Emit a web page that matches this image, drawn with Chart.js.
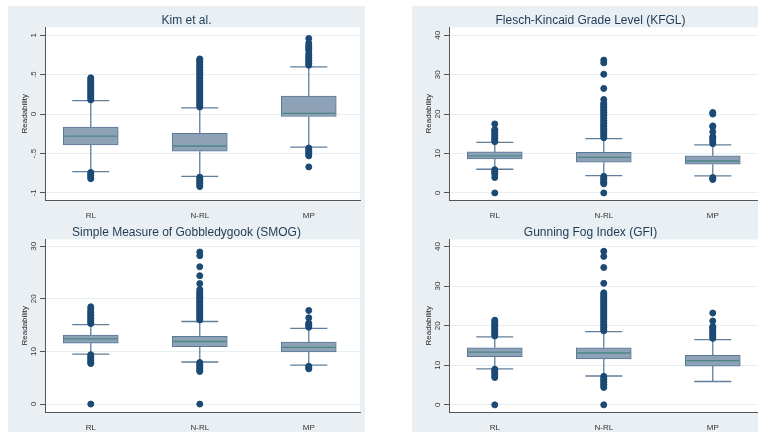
<!DOCTYPE html>
<html>
<head>
<meta charset="utf-8">
<script src="https://cdn.jsdelivr.net/npm/chart.js@4.4.1/dist/chart.umd.min.js"></script>
<style>
  body { margin: 0; background: #fff; width: 758px; height: 435px; overflow: hidden; position: relative; }
  canvas { position: absolute; background: #e9eff3; }
</style>
</head>
<body>
<canvas id="kim" width="357" height="212" style="left:8px;top:6px"></canvas>
<canvas id="kfgl" width="357" height="212" style="left:412px;top:6px"></canvas>
<canvas id="smog" width="357" height="214" style="left:8px;top:218px"></canvas>
<canvas id="gfi" width="357" height="214" style="left:412px;top:218px"></canvas>
<script>
const categories = ["RL", "N-RL", "MP"];

// Kim et al.
const kimTicks = [-1, -0.5, 0, 0.5, 1];
const kimTickLabels = ["-1", "-.5", "0", ".5", "1"];
const kimBoxLow = [-0.39, -0.47, -0.03];
const kimMedian = [-0.28, -0.405, 0.01];
const kimBoxHigh = [-0.165, -0.245, 0.23];
const kimWhiskLow = [-0.73, -0.79, -0.42];
const kimWhiskHigh = [0.17, 0.08, 0.6];
const kimOutRL = [0.18, 0.2, 0.22, 0.24, 0.26, 0.28, 0.3, 0.32, 0.34, 0.36, 0.38, 0.4, 0.42, 0.44, 0.46,
  -0.74, -0.76, -0.78, -0.8, -0.82];
const kimOutNRL = [0.09, 0.11, 0.13, 0.15, 0.17, 0.19, 0.21, 0.23, 0.25, 0.27, 0.29, 0.31, 0.33, 0.35, 0.37,
  0.39, 0.41, 0.43, 0.45, 0.47, 0.49, 0.51, 0.53, 0.55, 0.57, 0.59, 0.61, 0.63, 0.65, 0.67, 0.69, 0.7,
  -0.8, -0.82, -0.84, -0.86, -0.88, -0.9, -0.92];
const kimOutMP = [0.62, 0.64, 0.66, 0.68, 0.7, 0.72, 0.74, 0.77, 0.81, 0.83, 0.85, 0.87, 0.9, 0.96,
  -0.43, -0.45, -0.47, -0.49, -0.51, -0.53, -0.67];

// Flesch-Kincaid
const kfglTicks = [0, 10, 20, 30, 40];
const kfglBoxLow = [8.6, 7.8, 7.3];
const kfglMedian = [9.4, 9.0, 8.1];
const kfglBoxHigh = [10.4, 10.3, 9.4];
const kfglWhiskLow = [6.0, 4.4, 4.3];
const kfglWhiskHigh = [12.8, 13.8, 12.2];
const kfglOutRL = [13.0, 13.4, 13.8, 14.2, 14.6, 15.0, 15.4, 15.8, 16.1, 17.5, 5.9, 5.5, 5.1, 4.7, 3.9, 0];
const kfglOutNRL = [14.0, 14.4, 14.8, 15.2, 15.6, 16.0, 16.4, 16.8, 17.2, 17.6, 18.0, 18.4, 18.8, 19.2,
  19.6, 20.0, 20.4, 20.8, 21.2, 21.6, 22.0, 22.4, 22.8, 23.7, 26.5, 30.1, 33.0, 33.7,
  4.2, 3.8, 3.4, 3.0, 2.6, 2.3, 0];
const kfglOutMP = [12.5, 13.0, 13.5, 14.0, 14.3, 15.5, 16.8, 17.0, 20.0, 20.4, 3.9, 3.6, 3.4];

// SMOG
const smogTicks = [0, 10, 20, 30];
const smogBoxLow = [11.6, 10.9, 9.9];
const smogMedian = [12.4, 11.9, 10.8];
const smogBoxHigh = [13.1, 12.9, 11.8];
const smogWhiskLow = [9.5, 8.0, 7.4];
const smogWhiskHigh = [15.1, 15.7, 14.4];
const smogOutRL = [15.3, 15.6, 15.9, 16.2, 16.5, 16.8, 17.1, 17.4, 17.7, 18.1, 18.5,
  9.4, 9.1, 8.8, 8.5, 8.2, 7.9, 7.7, 0];
const smogOutNRL = [16.0, 16.3, 16.6, 16.9, 17.2, 17.5, 17.8, 18.1, 18.4, 18.7, 19.0, 19.3, 19.6, 19.9,
  20.2, 20.5, 20.8, 21.1, 21.4, 21.8, 22.9, 24.4, 26.1, 28.2, 28.9,
  7.9, 7.6, 7.3, 7.0, 6.7, 6.4, 6.2, 0];
const smogOutMP = [14.6, 14.9, 15.2, 15.4, 16.4, 17.8, 7.2, 6.9, 6.7];

// Gunning Fog
const gfiTicks = [0, 10, 20, 30, 40];
const gfiBoxLow = [12.2, 11.6, 9.8];
const gfiMedian = [13.3, 13.1, 11.2];
const gfiBoxHigh = [14.4, 14.4, 12.5];
const gfiWhiskLow = [9.1, 7.3, 5.9];
const gfiWhiskHigh = [17.2, 18.5, 16.5];
const gfiOutRL = [17.4, 17.8, 18.2, 18.6, 19.0, 19.4, 19.8, 20.2, 20.6, 21.0, 21.4,
  9.0, 8.6, 8.2, 7.8, 7.3, 6.9, 0];
const gfiOutNRL = [18.7, 19.1, 19.5, 19.9, 20.3, 20.7, 21.1, 21.5, 21.9, 22.3, 22.7, 23.1, 23.5, 23.9,
  24.3, 24.7, 25.1, 25.5, 25.9, 26.3, 26.7, 27.1, 27.5, 27.9, 28.3, 30.7, 34.7, 37.5, 38.8,
  7.2, 6.8, 6.4, 6.0, 5.6, 5.2, 4.8, 4.4, 0];
const gfiOutMP = [16.8, 17.2, 17.6, 18.0, 18.4, 18.8, 19.2, 19.6, 19.8, 21.2, 23.2];

const FONT = "'Liberation Sans', Arial, Helvetica, sans-serif";

// white plot region like Stata's
const plotBg = {
  id: "plotBg",
  beforeDraw(chart) {
    const { ctx, chartArea: a } = chart;
    ctx.save();
    ctx.fillStyle = "#ffffff";
    ctx.fillRect(a.left, a.top, a.right - a.left, a.bottom - a.top);
    ctx.restore();
  }
};

// whiskers, caps and median lines, positioned through the chart scales
const boxParts = {
  id: "boxParts",
  beforeDatasetsDraw(chart, args, o) {
    const { ctx, scales: { x, y } } = chart;
    ctx.save();
    ctx.strokeStyle = "#5f7e9c";
    ctx.lineWidth = 1.3;
    o.whiskLow.forEach((lo, i) => {
      const cx = x.getPixelForValue(i + 1);
      const l = x.getPixelForValue(i + 1 - o.cap);
      const r = x.getPixelForValue(i + 1 + o.cap);
      [[lo, o.boxLow[i]], [o.whiskHigh[i], o.boxHigh[i]]].forEach(([end, edge]) => {
        const ye = y.getPixelForValue(end);
        ctx.beginPath();
        ctx.moveTo(cx, y.getPixelForValue(edge));
        ctx.lineTo(cx, ye);
        ctx.moveTo(l, ye);
        ctx.lineTo(r, ye);
        ctx.stroke();
      });
    });
    ctx.restore();
  },
  afterDatasetDraw(chart, args, o) {
    if (args.meta.type !== "bar") return;
    const { ctx, scales: { y } } = chart;
    ctx.save();
    ctx.strokeStyle = "#4c8784";
    ctx.lineWidth = 1.3;
    args.meta.data.forEach((bar, i) => {
      const ym = y.getPixelForValue(o.median[i]);
      ctx.beginPath();
      ctx.moveTo(bar.x - bar.width / 2 + 1, ym);
      ctx.lineTo(bar.x + bar.width / 2 - 1, ym);
      ctx.stroke();
    });
    ctx.restore();
  }
};

function boxPlot(id, title, yMin, yMax, ticks, tickLabels, boxLow, median, boxHigh, whiskLow, whiskHigh, outliers, titleTop, xHeight) {
  const points = [];
  outliers.forEach((vals, i) => vals.forEach(v => points.push({ x: i + 1, y: v })));

  new Chart(document.getElementById(id), {
    data: {
      datasets: [
        {
          type: "scatter",
          data: points,
          backgroundColor: "#1b4a74",
          borderColor: "#1b4a74",
          pointRadius: 3,
          order: 0
        },
        {
          type: "bar",
          data: categories.map((c, i) => ({ x: i + 1, y: [boxLow[i], boxHigh[i]] })),
          backgroundColor: "#8da2b7",
          borderColor: "#5a7796",
          borderWidth: 1,
          borderSkipped: false,
          barThickness: 55,
          order: 1
        }
      ]
    },
    options: {
      responsive: false,
      animation: false,
      layout: { padding: { left: 0, right: 0, top: 0, bottom: 0 } },
      plugins: {
        legend: { display: false },
        tooltip: { enabled: false },
        title: {
          display: true,
          text: title,
          color: "#1e3a56",
          font: { family: FONT, size: 12, weight: "normal" },
          padding: { top: titleTop, bottom: 0 }
        },
        boxParts: { boxLow, median, boxHigh, whiskLow, whiskHigh, cap: 0.17 }
      },
      scales: {
        x: {
          type: "linear",
          offset: false,
          min: 0.58,
          max: 3.47,
          afterBuildTicks: s => { s.ticks = [1, 2, 3].map(v => ({ value: v })); },
          afterFit: s => { s.height = xHeight; },
          grid: { display: false },
          border: { display: true, color: "#555", width: 1 },
          ticks: {
            color: "#333",
            padding: 3,
            font: { family: FONT, size: 8 },
            callback: v => categories[v - 1]
          }
        },
        y: {
          type: "linear",
          min: yMin,
          max: yMax,
          afterBuildTicks: s => { s.ticks = ticks.map(v => ({ value: v })); },
          afterFit: s => { s.width = 37; },
          grid: { color: "#e6eff2", lineWidth: 1, drawTicks: true, tickLength: 5, tickColor: "#555" },
          border: { display: true, color: "#555", width: 1 },
          ticks: {
            color: "#333",
            padding: 2,
            minRotation: 90,
            maxRotation: 90,
            crossAlign: "center",
            font: { family: FONT, size: 8 },
            callback: v => tickLabels[ticks.indexOf(v)]
          },
          title: {
            display: true,
            text: "Readability",
            color: "#222",
            font: { family: FONT, size: 8 },
            padding: { top: 12, bottom: 0 }
          }
        }
      }
    },
    plugins: [plotBg, boxParts]
  });
}

boxPlot("kim", "Kim et al.", -1.09, 1.1, kimTicks, kimTickLabels,
  kimBoxLow, kimMedian, kimBoxHigh, kimWhiskLow, kimWhiskHigh, [kimOutRL, kimOutNRL, kimOutMP], 7, 18);
boxPlot("kfgl", "Flesch-Kincaid Grade Level (KFGL)", -1.8, 42, kfglTicks, kfglTicks.map(String),
  kfglBoxLow, kfglMedian, kfglBoxHigh, kfglWhiskLow, kfglWhiskHigh, [kfglOutRL, kfglOutNRL, kfglOutMP], 7, 18);
boxPlot("smog", "Simple Measure of Gobbledygook (SMOG)", -1.5, 31.3, smogTicks, smogTicks.map(String),
  smogBoxLow, smogMedian, smogBoxHigh, smogWhiskLow, smogWhiskHigh, [smogOutRL, smogOutNRL, smogOutMP], 7, 20);
boxPlot("gfi", "Gunning Fog Index (GFI)", -1.8, 41.8, gfiTicks, gfiTicks.map(String),
  gfiBoxLow, gfiMedian, gfiBoxHigh, gfiWhiskLow, gfiWhiskHigh, [gfiOutRL, gfiOutNRL, gfiOutMP], 7, 20);
</script>
</body>
</html>
